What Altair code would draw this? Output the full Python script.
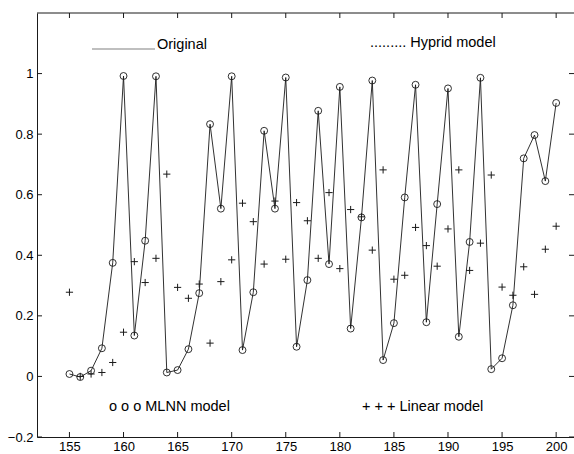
import altair as alt
import pandas as pd

# ---- data ----
t = list(range(155, 201))
original = [0.008, -0.002, 0.019, 0.093, 0.375, 0.992, 0.135, 0.448, 0.991, 0.013,
            0.021, 0.090, 0.275, 0.833, 0.554, 0.991, 0.087, 0.278, 0.811, 0.554,
            0.987, 0.098, 0.318, 0.877, 0.371, 0.956, 0.158, 0.525, 0.977, 0.054,
            0.176, 0.591, 0.963, 0.179, 0.569, 0.951, 0.131, 0.444, 0.986, 0.024,
            0.060, 0.235, 0.720, 0.797, 0.645, 0.903]
mlnn = [0.008, -0.002, 0.019, 0.093, 0.375, 0.992, 0.135, 0.448, 0.991, 0.013,
        0.021, 0.090, 0.275, 0.833, 0.554, 0.991, 0.087, 0.278, 0.811, 0.554,
        0.987, 0.098, 0.318, 0.877, 0.371, 0.956, 0.158, 0.525, 0.977, 0.054,
        0.176, 0.591, 0.963, 0.179, 0.569, 0.951, 0.131, 0.444, 0.986, 0.024,
        0.060, 0.235, 0.720, 0.797, 0.645, 0.903]
linear = [0.278, 0.000, 0.008, 0.013, 0.046, 0.146, 0.379, 0.310, 0.390, 0.668,
          0.294, 0.258, 0.305, 0.110, 0.313, 0.385, 0.572, 0.511, 0.371, 0.579,
          0.387, 0.574, 0.514, 0.390, 0.607, 0.356, 0.551, 0.527, 0.417, 0.682,
          0.321, 0.334, 0.492, 0.432, 0.364, 0.487, 0.682, 0.350, 0.440, 0.665,
          0.295, 0.268, 0.362, 0.271, 0.420, 0.496]

x_ticks = [155, 160, 165, 170, 175, 180, 185, 190, 195, 200]
y_ticks = [-0.2, 0, 0.2, 0.4, 0.6, 0.8, 1]
x_domain = [152, 201.65]
y_domain = [-0.2, 1.2]

label_original = "Original"
label_hybrid = "......... Hyprid model"
label_mlnn = "o o o MLNN model"
label_linear = "+ + + Linear model"

df = pd.DataFrame({"t": t, "original": original, "mlnn": mlnn, "linear": linear})
xt = pd.DataFrame({"tick": x_ticks})
yt = pd.DataFrame({"tick": y_ticks})

W, H = 537, 424
FONT = "Liberation Sans"
INK = "#1a1a1a"
TK = 5

xs = alt.Scale(domain=x_domain, nice=False, zero=False)
ys = alt.Scale(domain=y_domain, nice=False, zero=False)

line = alt.Chart(df).mark_line(color=INK, strokeWidth=0.9).encode(
    x=alt.X("t:Q", scale=xs, title=None,
            axis=alt.Axis(orient="bottom", values=x_ticks, tickSize=0, labelPadding=3,
                          labelFontSize=13, labelFont=FONT, labelColor="black",
                          domainColor=INK, grid=False, format="d")),
    y=alt.Y("original:Q", scale=ys, title=None,
            axis=alt.Axis(orient="left", values=y_ticks, tickSize=0, labelPadding=4,
                          labelFontSize=13, labelFont=FONT, labelColor="black",
                          domainColor=INK, grid=False, format="~g")),
)

circles = alt.Chart(df).mark_point(shape="circle", filled=False, color=INK,
                                   size=48, strokeWidth=0.9, opacity=1).encode(
    x=alt.X("t:Q", scale=xs), y=alt.Y("mlnn:Q", scale=ys))

plus = alt.Chart(df).mark_point(shape="M-1,0H1M0,-1V1", filled=False, color=INK,
                                size=52, strokeWidth=1.0, opacity=1).encode(
    x=alt.X("t:Q", scale=xs), y=alt.Y("linear:Q", scale=ys))

# inward tick marks on all four sides, placed by the scales
tick_bottom = alt.Chart(xt).mark_rule(color=INK, strokeWidth=1).encode(
    x=alt.X("tick:Q", scale=xs), y=alt.value(H), y2=alt.value(H - TK))
tick_top = alt.Chart(xt).mark_rule(color=INK, strokeWidth=1).encode(
    x=alt.X("tick:Q", scale=xs), y=alt.value(0), y2=alt.value(TK))
tick_left = alt.Chart(yt).mark_rule(color=INK, strokeWidth=1).encode(
    y=alt.Y("tick:Q", scale=ys), x=alt.value(0), x2=alt.value(TK))
tick_right = alt.Chart(yt).mark_rule(color=INK, strokeWidth=1).encode(
    y=alt.Y("tick:Q", scale=ys), x=alt.value(W), x2=alt.value(W - TK))
top_border = alt.Chart(pd.DataFrame({"tick": [0]})).mark_rule(color=INK, strokeWidth=1).encode(
    x=alt.value(0), x2=alt.value(W), y=alt.value(0))


def text_layer(label, px, py):
    return alt.Chart(pd.DataFrame({"label": [label]})).mark_text(
        align="left", baseline="middle", font=FONT, fontSize=14.5, color="black"
    ).encode(text="label:N", x=alt.value(px), y=alt.value(py))


legend_rule = alt.Chart(pd.DataFrame({"label": [label_original]})).mark_rule(
    color="#808080", strokeWidth=1.2
).encode(x=alt.value(55), x2=alt.value(118), y=alt.value(36))

chart = alt.layer(
    line, circles, plus,
    tick_bottom, tick_top, tick_left, tick_right, top_border,
    legend_rule,
    text_layer(label_original, 120, 32),
    text_layer(label_hybrid, 333, 30),
    text_layer(label_mlnn, 72, 394),
    text_layer(label_linear, 325, 394),
).properties(
    width=W, height=H,
    autosize=alt.AutoSizeParams(type="none"),
    padding={"left": 37, "top": 13, "right": 0, "bottom": 17},
    background="white",
).configure_view(stroke=None)

chart.save("out.html", embed_options={"renderer": "svg", "actions": False})
